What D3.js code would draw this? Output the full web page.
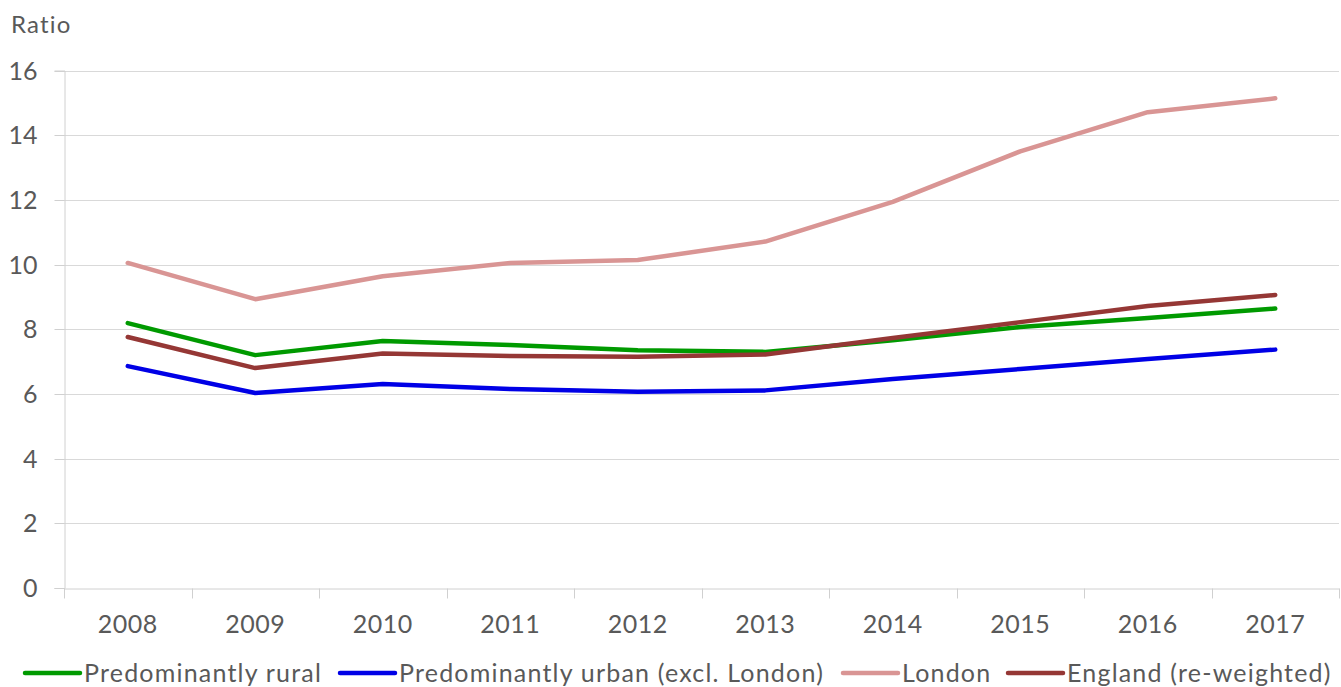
<!DOCTYPE html>
<html><head><meta charset="utf-8">
<script src="https://cdn.jsdelivr.net/npm/d3@7"></script>
<style>body{margin:0;background:#fff;} text{font-family:Lato,"Open Sans",sans-serif;fill:#595959;}</style>
</head><body><svg id="c" width="1341" height="687"></svg>
<script>
const years = ["2008","2009","2010","2011","2012","2013","2014","2015","2016","2017"];
const rural  = [8.19, 7.20, 7.64, 7.51, 7.35, 7.30, 7.66, 8.07, 8.35, 8.64];
const urban  = [6.86, 6.03, 6.31, 6.15, 6.07, 6.11, 6.46, 6.77, 7.08, 7.37];
const london = [10.05, 8.93, 9.64, 10.05, 10.14, 10.71, 11.94, 13.50, 14.71, 15.14];
const england= [7.76, 6.80, 7.25, 7.17, 7.15, 7.22, 7.73, 8.22, 8.72, 9.06];
const yTicks = [0,2,4,6,8,10,12,14,16];
const seriesNames = ["Predominantly rural","Predominantly urban (excl. London)","London","England (re-weighted)"];
const seriesColors = ["#009A00","#0000E6","#D99594","#953735"];
const seriesData = [rural, urban, london, england];

const svg = d3.select("#c");
const L=64, R=1339, T=70.5, B=588;
const x = d3.scaleBand().domain(years).range([L,R]);
const y = d3.scaleLinear().domain([0,16]).range([B,T]);

// gridlines
svg.append("g").selectAll("line").data(yTicks.filter(d=>d>0)).join("line")
  .attr("x1",L).attr("x2",R).attr("y1",d=>Math.round(y(d))+0.5).attr("y2",d=>Math.round(y(d))+0.5)
  .attr("stroke","#d9d9d9").attr("stroke-width",1);

// y axis
const ya = svg.append("g").attr("transform",`translate(${L+0.5},0)`)
  .call(d3.axisLeft(y).tickValues(yTicks).tickSize(10).tickPadding(17));
ya.select(".domain").attr("stroke","#d0d0d0");
ya.selectAll(".tick line").attr("stroke","#d0d0d0");
ya.selectAll(".tick text").style("font-size","25px").attr("fill","#595959");
ya.selectAll(".tick").attr("transform",d=>`translate(0,${Math.round(y(d))+0.5})`);

// x axis
const xa = svg.append("g").attr("transform",`translate(0,${B+0.5})`)
  .call(d3.axisBottom(x).tickSize(0).tickPadding(27));
xa.select(".domain").attr("stroke","#d0d0d0");
xa.selectAll(".tick text").style("font-size","25px").style("letter-spacing","0.5px").attr("fill","#595959");
// category boundary ticks
const bounds = years.map(d=>x(d)).concat([R]);
xa.append("g").selectAll("line").data(bounds).join("line")
  .attr("x1",d=>Math.round(d)+0.5).attr("x2",d=>Math.round(d)+0.5).attr("y1",0).attr("y2",10)
  .attr("stroke","#d0d0d0");

// lines
const line = d3.line().x((d,i)=>x(years[i])+x.bandwidth()/2).y(d=>y(d));
seriesData.forEach((s,i)=>{
  svg.append("path").datum(s).attr("d",line).attr("fill","none")
    .attr("stroke",seriesColors[i]).attr("stroke-width",4.5)
    .attr("stroke-linejoin","round").attr("stroke-linecap","round");
});

// axis title
svg.append("text").attr("x",11).attr("y",33).text("Ratio").style("font-size","24px").style("letter-spacing","1.2px");

// legend
const legX = [25, 340, 843, 1008];
const lg = svg.append("g");
seriesNames.forEach((n,i)=>{
  lg.append("line").attr("x1",legX[i]).attr("x2",legX[i]+55).attr("y1",673).attr("y2",673)
    .attr("stroke",seriesColors[i]).attr("stroke-width",4.5).attr("stroke-linecap","round");
  lg.append("text").attr("x",legX[i]+59).attr("y",682).text(n).style("font-size","25px").style("letter-spacing","1.2px");
});
</script></body></html>
